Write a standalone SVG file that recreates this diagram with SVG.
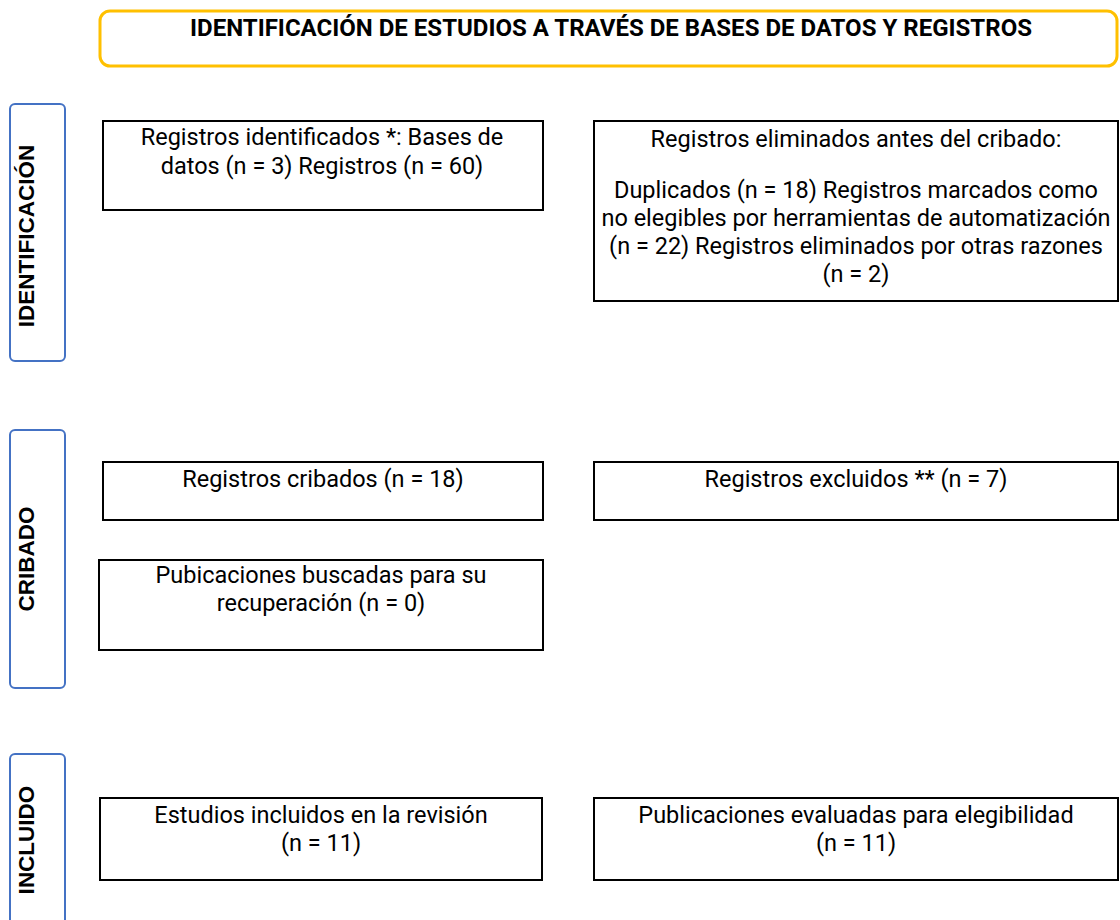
<svg xmlns="http://www.w3.org/2000/svg" width="1120" height="920" viewBox="0 0 1120 920">
<style>
.box{fill:#fff;stroke:#000;stroke-width:2}
.side{fill:#fff;stroke:#4472C4;stroke-width:2}
.hdr{fill:#fff;stroke:#FFC000;stroke-width:3}
.t{font-family:Roboto,"Liberation Sans",sans-serif;font-size:23.5px;fill:#000;text-anchor:middle}
.h{font-family:Roboto,"Liberation Sans",sans-serif;font-size:23px;font-weight:bold;fill:#000;text-anchor:middle}
.s{font-family:"Liberation Sans",Arial,sans-serif;font-size:22.5px;font-weight:bold;fill:#000;text-anchor:middle}
</style>
<rect width="1120" height="920" fill="#fff"/>
<g id="header">
<rect class="hdr" x="100" y="11" width="1017" height="55" rx="10"/>
<text class="h" x="611" y="36" textLength="842" lengthAdjust="spacingAndGlyphs">IDENTIFICACIÓN DE ESTUDIOS A TRAVÉS DE BASES DE DATOS Y REGISTROS</text>
</g>
<g id="side-identificacion">
<rect class="side" x="10" y="104" width="55" height="257" rx="5"/>
<text class="s" transform="translate(34,236) rotate(-90)">IDENTIFICACIÓN</text>
</g>
<g id="side-cribado">
<rect class="side" x="10" y="430" width="55" height="258" rx="5"/>
<text class="s" transform="translate(34,559) rotate(-90)">CRIBADO</text>
</g>
<g id="side-incluido">
<rect class="side" x="10" y="754" width="55" height="200" rx="5"/>
<text class="s" transform="translate(34,840) rotate(-90)">INCLUIDO</text>
</g>
<g id="registros-identificados">
<rect class="box" x="103" y="121" width="440" height="89"/>
<text class="t" x="322" y="145">Registros identificados *: Bases de</text>
<text class="t" x="322" y="174">datos (n = 3) Registros (n = 60)</text>
</g>
<g id="registros-eliminados">
<rect class="box" x="594" y="121" width="524" height="180"/>
<text class="t" x="856" y="147">Registros eliminados antes del cribado:</text>
<text class="t" x="856" y="198">Duplicados (n = 18) Registros marcados como</text>
<text class="t" x="856" y="226">no elegibles por herramientas de automatización</text>
<text class="t" x="856" y="254">(n = 22) Registros eliminados por otras razones</text>
<text class="t" x="856" y="282">(n = 2)</text>
</g>
<g id="registros-cribados">
<rect class="box" x="103" y="462" width="440" height="58"/>
<text class="t" x="323" y="487">Registros cribados (n = 18)</text>
</g>
<g id="registros-excluidos">
<rect class="box" x="594" y="462" width="524" height="58"/>
<text class="t" x="856" y="487">Registros excluidos ** (n = 7)</text>
</g>
<g id="publicaciones-buscadas">
<rect class="box" x="99" y="560" width="444" height="90"/>
<text class="t" x="321" y="583">Pubicaciones buscadas para su</text>
<text class="t" x="321" y="611">recuperación (n = 0)</text>
</g>
<g id="estudios-incluidos">
<rect class="box" x="100" y="798" width="442" height="82"/>
<text class="t" x="321" y="823">Estudios incluidos en la revisión</text>
<text class="t" x="321" y="851">(n = 11)</text>
</g>
<g id="publicaciones-evaluadas">
<rect class="box" x="594" y="798" width="524" height="82"/>
<text class="t" x="856" y="823">Publicaciones evaluadas para elegibilidad</text>
<text class="t" x="856" y="851">(n = 11)</text>
</g>
<g id="connectors"></g>
</svg>
